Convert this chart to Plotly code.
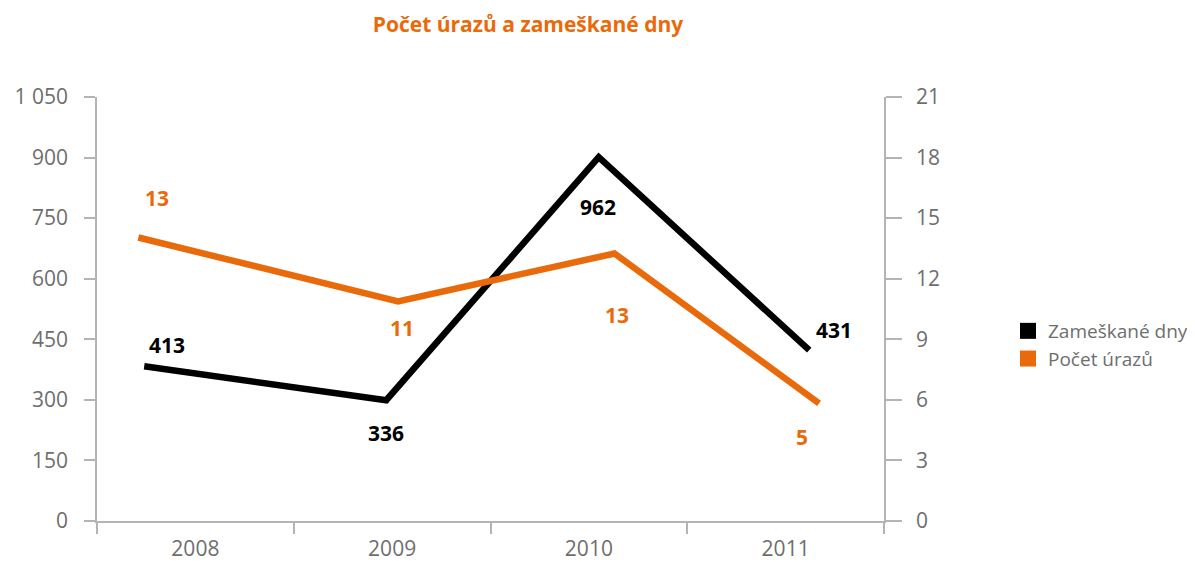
import plotly.graph_objects as go

# ---- data ----
years = [2008, 2009, 2010, 2011]
year_labels = ["2008", "2009", "2010", "2011"]

# x positions of the line vertices (in year units, as drawn)
zamesk_x = [2007.74, 2008.97, 2010.05, 2011.12]
uraz_x = [2007.71, 2009.03, 2010.13, 2011.17]

# plotted values (left axis: days, right axis: injuries)
zamesk_values = [383, 299, 901, 423]
uraz_values = [14.04, 10.88, 13.25, 5.83]

# data labels as printed
zamesk_labels = ["413", "336", "962", "431"]
uraz_labels = ["13", "11", "13", "5"]

left_ticks = [0, 150, 300, 450, 600, 750, 900, 1050]
left_ticktext = ["0", "150", "300", "450", "600", "750", "900", "1 050"]
right_ticks = [0, 3, 6, 9, 12, 15, 18, 21]

# ---- styles ----
ORANGE = "#E96A0B"
BLACK = "#000000"
GRAY_TXT = "#6E6E6E"
AXIS = "#B4B4B4"
FONT = "Open Sans"

# the page body has an 8px margin; the figure is sized/offset to compensate
PAGE_OFF = 8
W, H = 1195 - PAGE_OFF, 562 - PAGE_OFF

zamesk_off = [(23, -21), (0, 33), (-1, 50), (25, -20)]
uraz_off = [(19, -40), (4, 27), (3, 62), (-17, 34)]

fig = go.Figure()

fig.add_trace(go.Scatter(x=zamesk_x, y=zamesk_values, mode="lines",
                         line=dict(color=BLACK, width=6.5), showlegend=False,
                         yaxis="y", hoverinfo="skip"))
fig.add_trace(go.Scatter(x=uraz_x, y=uraz_values, mode="lines",
                         line=dict(color=ORANGE, width=6.5), showlegend=False,
                         yaxis="y2", hoverinfo="skip"))

# legend entries (square symbols)
fig.add_trace(go.Scatter(x=[None], y=[None], mode="markers", name="Zameškané dny",
                         marker=dict(symbol="square", size=18, color=BLACK)))
fig.add_trace(go.Scatter(x=[None], y=[None], mode="markers", name="Počet úrazů",
                         marker=dict(symbol="square", size=18, color=ORANGE)))

annotations = []
for xv, yv, txt, (dx, dy) in zip(zamesk_x, zamesk_values, zamesk_labels, zamesk_off):
    annotations.append(dict(x=xv, y=yv, xref="x", yref="y", text=txt, showarrow=False,
                            xshift=dx, yshift=-dy,
                            font=dict(family=FONT, size=21, color=BLACK, weight="bold")))
for xv, yv, txt, (dx, dy) in zip(uraz_x, uraz_values, uraz_labels, uraz_off):
    annotations.append(dict(x=xv, y=yv, xref="x", yref="y2", text=txt, showarrow=False,
                            xshift=dx, yshift=-dy,
                            font=dict(family=FONT, size=21, color=ORANGE, weight="bold")))

L, R, T, B = 97 - PAGE_OFF, 1195 - 884, 97 - PAGE_OFF, 562 - 521
fig.update_layout(
    width=W, height=H,
    paper_bgcolor="white", plot_bgcolor="white",
    margin=dict(l=L, r=R, t=T, b=B, autoexpand=False),
    font=dict(family=FONT, color=GRAY_TXT, size=20),
    title=dict(text="<b>Počet úrazů a zameškané dny</b>",
               x=(528 - PAGE_OFF) / W, xanchor="center",
               y=1 - (25 - PAGE_OFF) / H, yanchor="middle", xref="container", yref="container",
               font=dict(family=FONT, size=21, color=ORANGE)),
    xaxis=dict(range=[2007.5, 2011.5], tickvals=years, ticktext=year_labels,
               ticks="", showline=True, linecolor=AXIS, linewidth=1.5,
               showgrid=False, zeroline=False, tickfont=dict(size=21, color=GRAY_TXT),
               ticklabelstandoff=8, automargin=False,
               minor=dict(tick0=2007.5, dtick=1, ticks="outside", ticklen=11,
                          tickcolor=AXIS, tickwidth=1.5, showgrid=False)),
    yaxis=dict(range=[0, 1050], tickvals=left_ticks, ticktext=left_ticktext,
               ticks="outside", ticklen=11, tickcolor=AXIS, tickwidth=1.5,
               showline=True, linecolor=AXIS, linewidth=1.5, showgrid=False,
               zeroline=False, tickfont=dict(size=21, color=GRAY_TXT),
               ticklabelstandoff=12, automargin=False),
    yaxis2=dict(range=[0, 21], tickvals=right_ticks, overlaying="y", side="right",
                ticks="outside", ticklen=16, tickcolor=AXIS, tickwidth=1.5,
                showline=True, linecolor=AXIS, linewidth=1.5, showgrid=False,
                zeroline=False, tickfont=dict(size=21, color=GRAY_TXT),
                ticklabelstandoff=10, automargin=False),
    legend=dict(x=(1008 - 97) / 787, xanchor="left", y=(521 - 345) / 424, yanchor="middle",
                font=dict(size=19, color=GRAY_TXT), itemwidth=30,
                tracegroupgap=0, bgcolor="rgba(0,0,0,0)"),
    annotations=annotations,
)

fig.write_html("out.html")
